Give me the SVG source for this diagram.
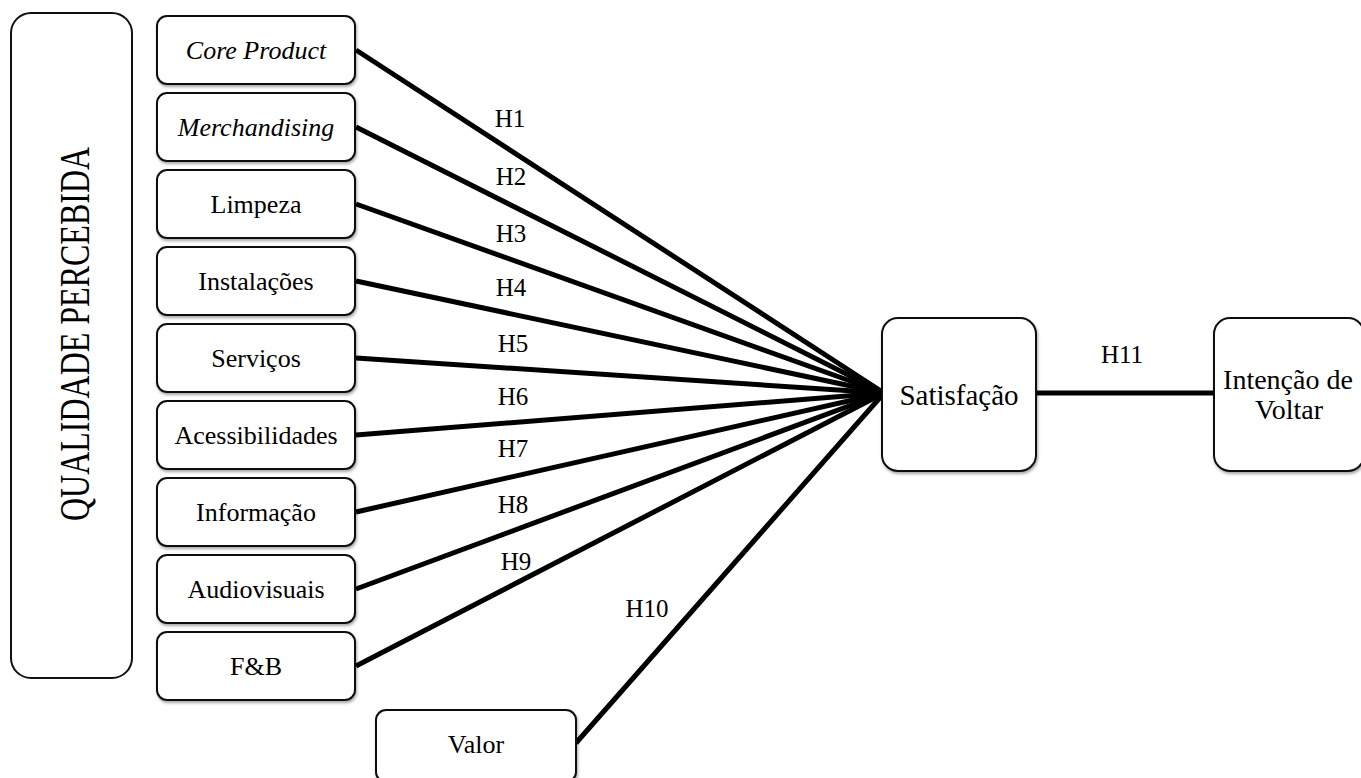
<svg xmlns="http://www.w3.org/2000/svg" width="1361" height="778" viewBox="0 0 1361 778" font-family="Liberation Serif, Times New Roman, serif">
<defs>
<filter id="sh" x="-10%" y="-10%" width="130%" height="130%">
<feDropShadow dx="1" dy="2" stdDeviation="1.5" flood-color="#000" flood-opacity="0.35"/>
</filter>
</defs>
<style>
.box{fill:#fff;stroke:#111;stroke-width:2;filter:url(#sh)}
text{font-family:"Liberation Serif","Times New Roman",serif;fill:#000;text-anchor:middle}
.n{font-size:26px}
.i{font-style:italic}
.lbl{font-size:25px}
.c{stroke:#000;stroke-width:5;fill:none}
</style>
<rect width="1361" height="778" fill="#fff"/>
<g id="qualidade">
<rect x="11" y="13" width="121" height="665" rx="20" fill="#fff" stroke="#111" stroke-width="2"/>
<text font-family="Liberation Serif, serif" font-size="32" transform="translate(89,334) rotate(-90) scale(1,1.3)">QUALIDADE PERCEBIDA</text>
</g>
<g id="connectors">
<line class="c" x1="356" y1="50" x2="884" y2="393"/>
<line class="c" x1="356" y1="127" x2="884" y2="393"/>
<line class="c" x1="356" y1="204" x2="884" y2="393"/>
<line class="c" x1="356" y1="281" x2="884" y2="393"/>
<line class="c" x1="356" y1="358" x2="884" y2="393"/>
<line class="c" x1="356" y1="435" x2="884" y2="393"/>
<line class="c" x1="356" y1="512" x2="884" y2="393"/>
<line class="c" x1="356" y1="589" x2="884" y2="393"/>
<line class="c" x1="356" y1="666" x2="884" y2="393"/>
<line class="c" x1="576" y1="743" x2="884" y2="393"/>
<line class="c" x1="1036" y1="393" x2="1214" y2="393"/>
<text class="lbl" font-family="Liberation Serif, serif" x="510" y="127">H1</text>
<text class="lbl" font-family="Liberation Serif, serif" x="511" y="185">H2</text>
<text class="lbl" font-family="Liberation Serif, serif" x="511" y="242">H3</text>
<text class="lbl" font-family="Liberation Serif, serif" x="511" y="296">H4</text>
<text class="lbl" font-family="Liberation Serif, serif" x="513" y="352">H5</text>
<text class="lbl" font-family="Liberation Serif, serif" x="513" y="405">H6</text>
<text class="lbl" font-family="Liberation Serif, serif" x="513" y="457">H7</text>
<text class="lbl" font-family="Liberation Serif, serif" x="513" y="513">H8</text>
<text class="lbl" font-family="Liberation Serif, serif" x="516" y="570">H9</text>
<text class="lbl" font-family="Liberation Serif, serif" x="647" y="617">H10</text>
<text class="lbl" font-family="Liberation Serif, serif" x="1122" y="363">H11</text>
</g>
<g id="core-product"><rect class="box" x="157" y="16" width="198" height="68" rx="10"/><text class="n i" font-family="Liberation Serif, serif" x="256" y="59">Core Product</text></g>
<g id="merchandising"><rect class="box" x="157" y="93" width="198" height="68" rx="10"/><text class="n i" font-family="Liberation Serif, serif" x="256" y="136">Merchandising</text></g>
<g id="limpeza"><rect class="box" x="157" y="170" width="198" height="68" rx="10"/><text class="n" font-family="Liberation Serif, serif" x="256" y="213">Limpeza</text></g>
<g id="instalacoes"><rect class="box" x="157" y="247" width="198" height="68" rx="10"/><text class="n" font-family="Liberation Serif, serif" x="256" y="290">Instalações</text></g>
<g id="servicos"><rect class="box" x="157" y="324" width="198" height="68" rx="10"/><text class="n" font-family="Liberation Serif, serif" x="256" y="367">Serviços</text></g>
<g id="acessibilidades"><rect class="box" x="157" y="401" width="198" height="68" rx="10"/><text class="n" font-family="Liberation Serif, serif" x="256" y="444">Acessibilidades</text></g>
<g id="informacao"><rect class="box" x="157" y="478" width="198" height="68" rx="10"/><text class="n" font-family="Liberation Serif, serif" x="256" y="521">Informação</text></g>
<g id="audiovisuais"><rect class="box" x="157" y="555" width="198" height="68" rx="10"/><text class="n" font-family="Liberation Serif, serif" x="256" y="598">Audiovisuais</text></g>
<g id="fb"><rect class="box" x="157" y="632" width="198" height="68" rx="10"/><text class="n" font-family="Liberation Serif, serif" x="256" y="675">F&amp;B</text></g>
<g id="valor"><rect class="box" x="376" y="710" width="200" height="72" rx="10"/><text class="n" font-family="Liberation Serif, serif" x="476" y="753">Valor</text></g>
<g id="satisfacao"><rect class="box" x="882" y="318" width="154" height="153" rx="16"/><text font-family="Liberation Serif, serif" font-size="29" x="959" y="405">Satisfação</text></g>
<g id="intencao"><rect class="box" x="1214" y="318" width="150" height="153" rx="16"/><text font-family="Liberation Serif, serif" font-size="28" x="1288" y="389">Intenção de</text><text font-family="Liberation Serif, serif" font-size="28" x="1289" y="419">Voltar</text></g>
</svg>
